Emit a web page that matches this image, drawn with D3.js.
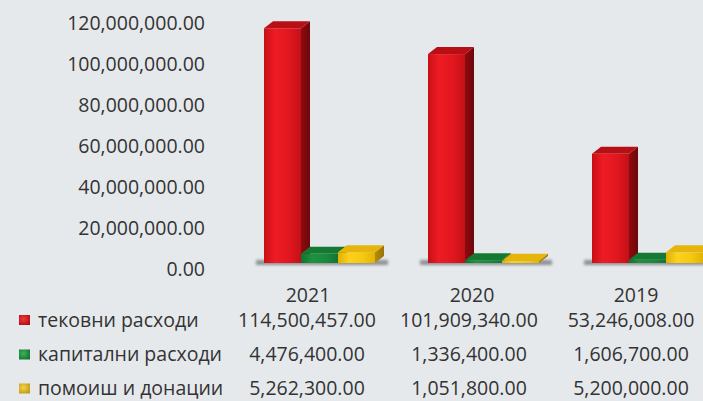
<!DOCTYPE html>
<html><head><meta charset="utf-8">
<script src="https://cdn.jsdelivr.net/npm/d3@7"></script>
<style>body{margin:0;background:#e6e9ec;overflow:hidden}svg{display:block}</style>
</head><body><svg id="c" width="703" height="401"></svg>
<script>
const years = ["2021", "2020", "2019"];
const seriesNames = ["тековни расходи", "капитални расходи", "помоиш и донации"];
const tekovni = [114500457, 101909340, 53246008];
const kapitalni = [4476400, 1336400, 1606700];
const pomosh = [5262300, 1051800, 5200000];
const yTicks = [0, 20000000, 40000000, 60000000, 80000000, 100000000, 120000000];

const series = [tekovni, kapitalni, pomosh];
const palette = [
  {front: ["#c80f16", "#ee1c24", "#e0161e", "#c31017"], side: ["#8e0b10", "#6d070b"], top: "#b80f16", mk: ["#f03a3a", "#b00c12"]},
  {front: ["#137232", "#1e9240", "#1a883b", "#147434"], side: ["#0d5524", "#0a451d"], top: "#147a33", mk: ["#3cb454", "#137232"]},
  {front: ["#e0b000", "#fdd21c", "#f5c80e", "#e2b203"], side: ["#b58b07", "#987406"], top: "#e6b50c", mk: ["#f2d24a", "#c09a10"]}
];

const svg = d3.select("#c");
const fmt = d3.format(",.2f");
const textColor = "#333333";
const font = "'Open Sans', 'Noto Sans', sans-serif";
const fs = 19.5;

const y = d3.scaleLinear().domain([0, 120000000]).range([269, 23]);
const x = d3.scaleBand().domain(years).range([228, 720]).padding(0);
const inner = d3.scaleBand().domain(d3.range(series.length)).range([36, 147]).padding(0);
const dx = 9, dy = 7, base = y(0) - 6;

const defs = svg.append("defs");
palette.forEach((p, i) => {
  const g = defs.append("linearGradient").attr("id", "f" + i).attr("x1", 0).attr("x2", 1).attr("y1", 0).attr("y2", 0);
  [0, 0.3, 0.7, 1].forEach((o, k) => g.append("stop").attr("offset", o).attr("stop-color", p.front[k]));
  const s = defs.append("linearGradient").attr("id", "s" + i).attr("x1", 0).attr("x2", 1).attr("y1", 0).attr("y2", 0);
  s.append("stop").attr("offset", 0).attr("stop-color", p.side[0]);
  s.append("stop").attr("offset", 1).attr("stop-color", p.side[1]);
  const m = defs.append("radialGradient").attr("id", "m" + i).attr("cx", 0.4).attr("cy", 0.4).attr("r", 0.7);
  m.append("stop").attr("offset", 0).attr("stop-color", p.mk[0]);
  m.append("stop").attr("offset", 1).attr("stop-color", p.mk[1]);
});
defs.append("filter").attr("id", "blur").attr("x", "-20%").attr("y", "-100%").attr("width", "140%").attr("height", "300%")
  .append("feGaussianBlur").attr("stdDeviation", 1.6);

// Y axis
const yAxis = svg.append("g").attr("transform", "translate(209,0)")
  .call(d3.axisLeft(y).tickValues(yTicks).tickFormat(fmt).tickSize(0).tickPadding(4));
yAxis.select(".domain").remove();
yAxis.selectAll("text").attr("font-family", font).attr("font-size", fs).attr("fill", textColor);

// shadows
years.forEach(yr => {
  const x0 = x(yr) + inner(0) - 8;
  const x1 = x(yr) + inner(series.length - 1) + inner.bandwidth() + dx + 4;
  svg.append("rect").attr("x", x0).attr("y", base - 3).attr("width", x1 - x0).attr("height", 5)
    .attr("fill", "#6f7378").attr("opacity", 0.75).attr("filter", "url(#blur)");
});

// bars
years.forEach((yr, ci) => {
  series.forEach((vals, si) => {
    const v = vals[ci];
    const x0 = x(yr) + inner(si), w = inner.bandwidth();
    const top = y(v) - 6;
    const g = svg.append("g");
    g.append("rect").attr("x", x0).attr("y", top).attr("width", w).attr("height", base - top).attr("fill", `url(#f${si})`);
    g.append("polygon").attr("points", [[x0 + w, top], [x0 + w + dx, top - dy], [x0 + w + dx, base - dy], [x0 + w, base]].map(p => p.join(",")).join(" "))
      .attr("fill", `url(#s${si})`);
    g.append("polygon").attr("points", [[x0, top], [x0 + dx, top - dy], [x0 + w + dx, top - dy], [x0 + w, top]].map(p => p.join(",")).join(" "))
      .attr("fill", palette[si].top);
  });
});

// category labels
svg.selectAll(".yr").data(years).enter().append("text")
  .attr("x", d => x(d) + x.bandwidth() / 2 - 2).attr("y", 295).attr("dy", "0.35em")
  .attr("text-anchor", "middle").attr("font-family", font).attr("font-size", fs).attr("fill", textColor)
  .text(d => d);

// data table
const rowY = [320, 354.5, 388.5];
seriesNames.forEach((name, si) => {
  svg.append("rect").attr("x", 19).attr("y", rowY[si] - 5).attr("width", 11).attr("height", 10)
    .attr("fill", `url(#m${si})`);
  svg.append("text").attr("x", 38).attr("y", rowY[si]).attr("dy", "0.35em")
    .attr("font-family", font).attr("font-size", fs).attr("fill", textColor).text(name);
  years.forEach((yr, ci) => {
    svg.append("text").attr("x", x(yr) + x.bandwidth() / 2 - 3 - ci * 2).attr("y", rowY[si]).attr("dy", "0.35em")
      .attr("text-anchor", "middle").attr("font-family", font).attr("font-size", fs).attr("fill", textColor)
      .text(fmt(series[si][ci]));
  });
});
</script></body></html>
